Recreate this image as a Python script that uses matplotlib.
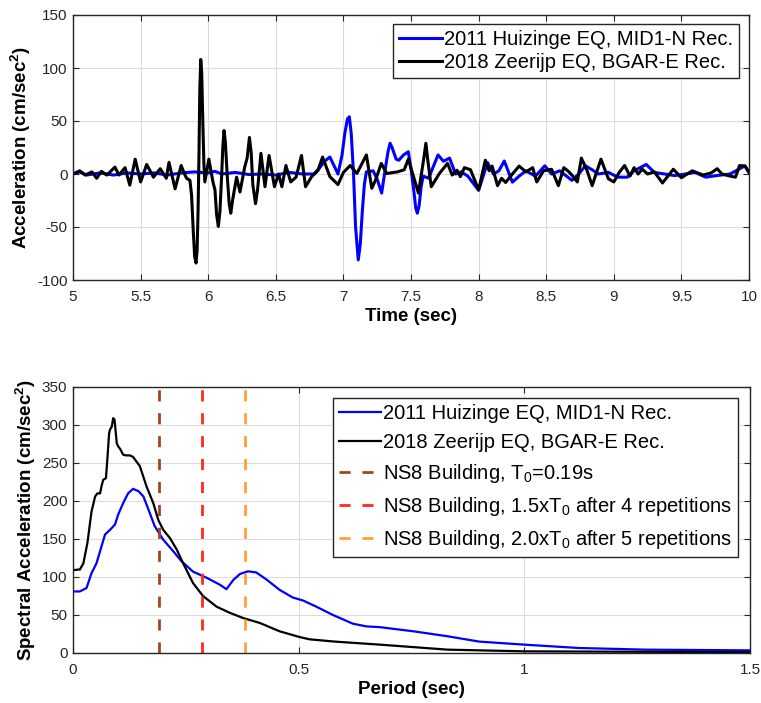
import matplotlib
matplotlib.use("Agg")
import matplotlib.pyplot as plt

plt.rcParams["font.family"] = ["Liberation Sans", "DejaVu Sans"]
plt.rcParams["mathtext.fontset"] = "custom"
plt.rcParams["mathtext.rm"] = "Liberation Sans"
plt.rcParams["mathtext.it"] = "Liberation Sans:italic"
plt.rcParams["mathtext.bf"] = "Liberation Sans:bold"
plt.rcParams["mathtext.default"] = "regular"
plt.rcParams["lines.scale_dashes"] = False
plt.rcParams["axes.unicode_minus"] = False

# acceleration time histories (sec, cm/sec^2)
blue_time = [5.00, 5.05, 5.10, 5.20, 5.30, 5.40, 5.50, 5.60, 5.70, 5.80, 5.90, 6.00,
             6.05, 6.10, 6.20, 6.30, 6.40, 6.50, 6.60, 6.70, 6.78, 6.82, 6.86, 6.90,
             6.93, 6.96, 6.99, 7.01, 7.03, 7.044, 7.058, 7.075, 7.09, 7.11, 7.125, 7.14,
             7.155, 7.17, 7.22, 7.25, 7.283, 7.31, 7.33, 7.345, 7.36, 7.39, 7.41, 7.445,
             7.48, 7.50, 7.52, 7.535, 7.547, 7.56, 7.575, 7.59, 7.63, 7.70, 7.74, 7.785,
             7.83, 7.87, 7.92, 8.00, 8.066, 8.11, 8.15, 8.19, 8.25, 8.30, 8.35, 8.42,
             8.49, 8.54, 8.60, 8.69, 8.74, 8.79, 8.84, 8.885, 8.96, 9.03, 9.10, 9.15,
             9.24, 9.30, 9.375, 9.45, 9.53, 9.60, 9.68, 9.76, 9.86, 9.97, 10.0]
blue_acc = [0, 2, -1, 1, -1, 1, 0, 1, -1, 1, 2, 1,
            2.5, 0, 1.5, -0.5, 0, -1, 1.5, 0, 0, 5, 12, 16,
            8, 0, 18, 38, 52, 54, 38, 0, -50, -81, -66, -35,
            -10, 2, 3, -5, -18, 5, 21, 29, 25, 14, 13, 18,
            21, 5, -15, -32, -37, -30, -12, -2, -4, 18, 12, 15,
            0, 2, -2, -15.4, 10.8, 0, 3, 12.3, -7.7, -2, 3, -2,
            7.7, 0, 3, -6, 0, 7.7, 4, 0, 1.5, -3, -3, 3,
            9, 1.5, 0, -1.5, 0, 1.5, -3, -1.5, 0, 7.7, 1.5]

black_time = [5.00, 5.05, 5.09, 5.14, 5.175, 5.21, 5.25, 5.31, 5.34, 5.385, 5.42, 5.46,
              5.50, 5.545, 5.595, 5.645, 5.69, 5.71, 5.755, 5.80, 5.825, 5.84, 5.865, 5.877,
              5.89, 5.90, 5.91, 5.918, 5.925, 5.932, 5.938, 5.945, 5.952, 5.96, 5.968, 5.975,
              6.005, 6.035, 6.05, 6.062, 6.075, 6.087, 6.10, 6.108, 6.117, 6.127, 6.14, 6.155,
              6.167, 6.18, 6.21, 6.235, 6.27, 6.288, 6.305, 6.318, 6.33, 6.35, 6.365, 6.39,
              6.42, 6.45, 6.49, 6.52, 6.545, 6.575, 6.61, 6.65, 6.69, 6.72, 6.765, 6.81,
              6.846, 6.90, 6.96, 7.00, 7.05, 7.10, 7.17, 7.21, 7.24, 7.28, 7.32, 7.40,
              7.45, 7.48, 7.555, 7.595, 7.61, 7.625, 7.65, 7.71, 7.77, 7.805, 7.84, 7.865,
              7.895, 7.94, 8.00, 8.05, 8.078, 8.10, 8.14, 8.17, 8.20, 8.25, 8.30, 8.35,
              8.40, 8.43, 8.48, 8.54, 8.59, 8.63, 8.66, 8.69, 8.73, 8.76, 8.80, 8.84,
              8.905, 8.96, 9.00, 9.04, 9.08, 9.12, 9.15, 9.18, 9.21, 9.25, 9.30, 9.36,
              9.44, 9.50, 9.58, 9.66, 9.72, 9.765, 9.80, 9.86, 9.90, 9.93, 9.97, 10.0]
black_acc = [0, 3, -1, 2, -4, 2.5, -1, 6.5, -1, 6, -10.5, 14,
             -7.5, 9, -3, 5, -4, 11, -14, 8, 0, -4, -6, -20,
             -55, -78, -84, -72, -35, 20, 80, 108, 95, 50, 10, -7.5,
             14, -7.5, -15, -38, -49.5, -35, 0, 25, 41, 30, 0, -28,
             -37, -25, -3, -17, 6.5, 15, 34.5, 20, -10, -28, -15, 19.5,
             -12, 17.5, -12, 0, -12, 8, -7.5, -3, 17.5, -12, -2.5, 3,
             16, -2.5, -10, 1.5, 8, 0.5, 18, -13.5, -5, 10, 0.5, 2,
             4, 14, -18, 15, 29, 12, -12, 0.5, 10, -1, 3.5, -2.5,
             6, 4, -15, 13, 3, 7.5, -11, -4, -8, 0, 7.5, 2,
             6, -7.5, 3, 4.5, -11, 6, 3, -1, -7.5, 15, 4, -11,
             14, -4.5, -7.5, 1.5, 8, -2, 6, 0, 4.5, 0, 2, -8.5,
             4.5, -3.5, 3, -1, 1, 5, 0, -2, -3, 8, 7.5, 1.5]

# response spectra (sec, cm/sec^2)
blue_period = [0.0, 0.015, 0.03, 0.041, 0.052, 0.063, 0.071, 0.082, 0.093, 0.10,
               0.111, 0.122, 0.133, 0.145, 0.156, 0.167, 0.181, 0.20, 0.222, 0.24,
               0.266, 0.296, 0.325, 0.34, 0.355, 0.37, 0.388, 0.406, 0.428, 0.458,
               0.487, 0.51, 0.539, 0.576, 0.62, 0.65, 0.68, 0.755, 0.83, 0.90,
               1.0, 1.12, 1.27, 1.5]
blue_sa = [81, 81, 85.5, 105, 118, 140, 156, 162, 169, 182,
           197, 210, 216, 213, 206, 189, 167, 149, 134, 121,
           107, 99, 90, 84, 96, 104, 107.5, 106, 97, 83,
           73, 69, 61, 50, 38.6, 35, 34, 28.5, 22, 15,
           11, 6.6, 4.4, 3.5]

black_period = [0.0, 0.0155, 0.023, 0.032, 0.041, 0.049, 0.054, 0.06, 0.063, 0.067,
                0.073, 0.076, 0.08, 0.082, 0.086, 0.089, 0.092, 0.097, 0.10, 0.105,
                0.111, 0.117, 0.126, 0.133, 0.148, 0.163, 0.178, 0.189, 0.20, 0.215,
                0.23, 0.244, 0.266, 0.288, 0.318, 0.347, 0.377, 0.414, 0.458, 0.502,
                0.524, 0.58, 0.68, 0.83, 1.0, 1.5]
black_sa = [109, 110, 118, 145, 186, 206, 210, 210, 219, 228,
            230, 254, 289, 294, 298, 309, 307, 276, 272, 268,
            261, 260, 260, 258, 246, 219, 197, 175, 162, 151,
            136, 118, 92, 75, 61, 53, 46, 39.5, 28.5, 21,
            18, 15, 11, 4.4, 2.2, 1]

t0 = 0.19
period_marks = [t0, 1.5 * t0, 2.0 * t0]
mark_colors = ["#a0461e", "#ff2a14", "#ffa03c"]
mark_labels = ["NS8 Building, T$_0$=0.19s",
               "NS8 Building, 1.5xT$_0$ after 4 repetitions",
               "NS8 Building, 2.0xT$_0$ after 5 repetitions"]
rec_labels = ["2011 Huizinge EQ, MID1-N Rec.", "2018 Zeerijp EQ, BGAR-E Rec."]


def style_axes(ax):
    ax.grid(True, color="#dcdcdc", linewidth=0.8)
    ax.set_axisbelow(True)
    for s in ax.spines.values():
        s.set_color("#262626")
        s.set_linewidth(1.0)
    ax.tick_params(direction="in", top=True, right=True, length=4,
                   width=0.8, labelsize=11, colors="#262626")
    ax.tick_params(axis="x", pad=7)
    ax.tick_params(axis="y", pad=4)


fig = plt.figure(figsize=(7.61, 7.03), dpi=100)

# time histories
ax1 = fig.add_axes([73 / 761, 1 - 280 / 703, 676 / 761, 265 / 703])
ax1.plot(blue_time, blue_acc, color="#0000ff", lw=2.2, label=rec_labels[0],
         solid_joinstyle="round")
ax1.plot(black_time, black_acc, color="black", lw=2.2, label=rec_labels[1],
         solid_joinstyle="round")
ax1.set_xlim(5, 10)
ax1.set_ylim(-100, 150)
ax1.set_xticks([5, 5.5, 6, 6.5, 7, 7.5, 8, 8.5, 9, 9.5, 10])
ax1.set_xticklabels(["5", "5.5", "6", "6.5", "7", "7.5", "8", "8.5", "9", "9.5", "10"])
ax1.set_yticks([-100, -50, 0, 50, 100, 150])
ax1.set_xlabel("Time (sec)", fontsize=13.5, fontweight="bold", labelpad=3)
ax1.set_ylabel(r"Acceleration (cm/sec$^{\mathbf{2}}$)", fontsize=13.5,
               fontweight="bold", labelpad=3)
style_axes(ax1)
leg1 = ax1.legend(loc="upper right", bbox_to_anchor=(0.985, 0.965), fontsize=14.5,
                  frameon=True, fancybox=False, framealpha=1, edgecolor="#262626",
                  handlelength=2.1, handletextpad=0.1, borderpad=0.3,
                  labelspacing=0.2, borderaxespad=0)
leg1.get_frame().set_linewidth(1.0)

# response spectra
ax2 = fig.add_axes([73 / 761, 1 - 653 / 703, 677 / 761, 266 / 703])
ax2.plot(blue_period, blue_sa, color="#0000ff", lw=1.6, label=rec_labels[0])
ax2.plot(black_period, black_sa, color="black", lw=1.6, label=rec_labels[1])
for p, c, lab in zip(period_marks, mark_colors, mark_labels):
    ax2.axvline(p, color=c, lw=2.0, dashes=(8, 8.5), label=lab)
ax2.set_xlim(0, 1.5)
ax2.set_ylim(0, 350)
ax2.set_xticks([0, 0.5, 1, 1.5])
ax2.set_xticklabels(["0", "0.5", "1", "1.5"])
ax2.set_yticks(range(0, 351, 50))
ax2.set_xlabel("Period (sec)", fontsize=13.5, fontweight="bold", labelpad=3)
ax2.set_ylabel(r"Spectral Acceleration (cm/sec$^{\mathbf{2}}$)", fontsize=13.5,
               fontweight="bold", labelpad=3)
style_axes(ax2)
leg2 = ax2.legend(loc="upper right", bbox_to_anchor=(0.982, 0.96), fontsize=14.5,
                  frameon=True, fancybox=False, framealpha=1, edgecolor="#262626",
                  handlelength=2.1, handletextpad=0.1, borderpad=0.3,
                  labelspacing=0.5, borderaxespad=0)
leg2.get_frame().set_linewidth(1.0)

fig.savefig("out.png", dpi=100)
